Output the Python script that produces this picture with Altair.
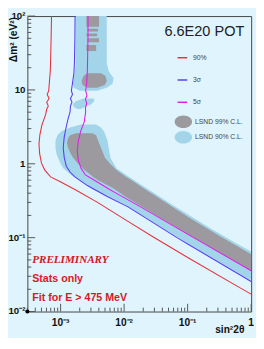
import altair as alt
import pandas as pd

# ---- sensitivity curves (sin^2 2theta, delta m^2) ----
RED_S = [7.2e-4, 7.1e-4, 6.9e-4, 6.65e-4, 6.5e-4, 6.15e-4, 6.6e-4, 6.05e-4, 6.4e-4, 6.05e-4,
         5.8e-4, 5.1e-4, 4.73e-4, 4.57e-4, 4.68e-4, 5.0e-4, 5.64e-4, 6.97e-4, 9.9e-4, 1.68e-3,
         3.76e-3, 1.15e-2, 2.88e-2, 0.105, 0.61, 1.0]
RED_DM = [100, 51.5, 18.4, 12.4, 9.77, 8.66, 7.67, 6.81, 6.03, 5.51,
          4.59, 3.40, 2.51, 1.86, 1.37, 1.02, 0.822, 0.665, 0.572, 0.449,
          0.303, 0.166, 0.102, 0.0526, 0.0219, 0.0172]

BLUE_S = [1.69e-3, 1.68e-3, 1.65e-3, 1.62e-3, 1.54e-3, 1.48e-3, 1.54e-3, 1.43e-3, 1.51e-3, 1.43e-3,
          1.41e-3, 1.31e-3, 1.22e-3, 1.14e-3, 1.10e-3, 1.14e-3, 1.23e-3, 1.41e-3, 1.68e-3, 2.64e-3,
          5.33e-3, 1.15e-2, 6.9e-2, 0.105, 1.0]
BLUE_DM = [100, 51.5, 22.8, 16.8, 12.4, 9.77, 8.66, 7.67, 6.81, 6.03,
           5.03, 4.07, 3.10, 2.30, 1.65, 1.22, 0.927, 0.774, 0.665, 0.507,
           0.364, 0.261, 0.0993, 0.0803, 0.0255]

MAG_S = [2.7e-3, 2.7e-3, 2.64e-3, 2.58e-3, 2.48e-3, 2.6e-3, 2.46e-3, 2.58e-3, 2.46e-3, 2.48e-3,
         2.36e-3, 2.07e-3, 1.9e-3, 1.83e-3, 1.9e-3, 2.1e-3, 2.46e-3, 3.3e-3, 5.93e-3, 7.58e-3,
         1.82e-2, 0.113, 1.0]
MAG_DM = [100, 51.5, 18.4, 12.4, 9.77, 8.41, 7.45, 6.61, 5.68, 5.03,
          3.72, 2.75, 2.03, 1.50, 1.11, 0.873, 0.707, 0.608, 0.449, 0.398,
          0.261, 0.105, 0.0356]

CURVE_NAMES = ["90%", "3σ", "5σ"]
CURVE_COLORS = ["#e8303c", "#5a3cf5", "#e21ee6"]

# ---- LSND allowed regions: rows of (delta m^2, sin^2 left, sin^2 right) ----
CL_NAMES = ["LSND 99% C.L.", "LSND 90% C.L."]
CL_COLORS = ["#9c999f", "#a3d5ea"]

GRAY_PIECES = {
    "g1": ([100, 71.8], [2.55e-3, 2.55e-3], [4.03e-3, 4.03e-3]),
    "g2": ([67.5, 61.7], [2.64e-3, 2.64e-3], [3.9e-3, 3.9e-3]),
    "g3": ([58.1, 53.1], [2.55e-3, 2.55e-3], [3.76e-3, 3.76e-3]),
    "g4": ([49.9, 44.2], [2.64e-3, 2.64e-3], [4.03e-3, 4.03e-3]),
    "g5": ([40.5, 33.7], [2.55e-3, 2.55e-3], [3.63e-3, 3.63e-3]),
    "g6": ([16.8, 15.4, 13.2, 11.7, 10.7],
           [2.64e-3, 2.30e-3, 2.14e-3, 2.22e-3, 2.64e-3],
           [4.32e-3, 5.1e-3, 5.33e-3, 4.97e-3, 3.76e-3]),
    "g7": ([2.59, 2.44, 2.23, 1.91, 1.65, 1.42, 1.22, 1.02, 0.822, 0.665, 0.608,
            0.463, 0.353, 0.187, 0.109, 0.0594, 0.0366],
           [1.73e-3, 1.41e-3, 1.31e-3, 1.26e-3, 1.31e-3, 1.41e-3, 1.56e-3, 1.86e-3, 2.38e-3,
            3.26e-3, 3.76e-3, 6.82e-3, 1.08e-2, 3.67e-2, 0.105, 0.36, 0.96],
           [3.15e-3, 3.63e-3, 3.76e-3, 4.03e-3, 4.32e-3, 4.64e-3, 4.97e-3, 5.93e-3, 7.58e-3,
            1.08e-2, 1.28e-2, 2.05e-2, 3.37e-2, 0.105, 0.30, 1.0, 1.0]),
}

BLUE_PIECES = {
    "b1": ([100, 22.8, 17.9, 14.5, 12.1, 10.7, 9.77],
           [1.73e-3, 1.73e-3, 1.68e-3, 1.62e-3, 1.56e-3, 1.62e-3, 2.0e-3],
           [5.33e-3, 5.33e-3, 5.72e-3, 6.82e-3, 6.58e-3, 5.33e-3, 3.76e-3]),
    "b2": ([7.67, 7.01, 6.41, 5.85, 5.51],
           [2.30e-3, 1.73e-3, 1.56e-3, 1.62e-3, 1.86e-3],
           [3.38e-3, 3.38e-3, 3.04e-3, 2.38e-3, 2.07e-3]),
    "b3": ([3.40, 3.10, 2.75, 2.44, 2.03, 1.65, 1.37, 1.18, 1.02, 0.873, 0.707, 0.572,
            0.449, 0.364, 0.277, 0.134, 0.0853, 0.065, 0.0271],
           [2.07e-3, 1.41e-3, 1.03e-3, 8.9e-4, 8.3e-4, 8.3e-4, 8.6e-4, 9.23e-4, 9.9e-4, 1.1e-3,
            1.46e-3, 2.14e-3, 3.26e-3, 5.5e-3, 1.04e-2, 4.08e-2, 9.8e-2, 0.166, 0.93],
           [3.63e-3, 4.32e-3, 4.8e-3, 5.1e-3, 5.5e-3, 5.72e-3, 5.93e-3, 6.14e-3, 6.82e-3, 7.58e-3,
            1.08e-2, 1.57e-2, 2.43e-2, 3.55e-2, 5.8e-2, 0.228, 0.562, 1.0, 1.0]),
}

# ---- axes ----
X_MAJOR = [1e-3, 1e-2, 1e-1, 1.0]
X_LABELS = ["10⁻³", "10⁻²", "10⁻¹", "1"]
Y_MAJOR = [0.01, 0.1, 1.0, 10.0, 100.0]
Y_LABELS = ["10⁻²", "10⁻¹", "1", "10", "10²"]
X_MINOR = [k * 10.0 ** d for d in (-4, -3, -2, -1) for k in range(2, 10) if 3e-4 <= k * 10.0 ** d < 1]
Y_MINOR = [k * 10.0 ** d for d in (-2, -1, 0, 1) for k in range(2, 10)]
X_TITLE = "sin²2θ"
Y_TITLE = "Δm² (eV²)"

# ---- annotations ----
NOTE_TEXT = ["PRELIMINARY", "Stats only", "Fit for E > 475 MeV"]
NOTE_S = [3.57e-4, 3.57e-4, 3.57e-4]
NOTE_DM = [0.0496, 0.0271, 0.0153]
POT_TEXT = "6.6E20 POT"
POT_S, POT_DM = 0.78, 61.7

W, H = 231, 305
FONT = "Liberation Sans"
INK = "#111"

curves = pd.DataFrame(
    [{"name": n, "i": i, "s": s, "dm": d}
     for n, S, D in zip(CURVE_NAMES, [RED_S, BLUE_S, MAG_S], [RED_DM, BLUE_DM, MAG_DM])
     for i, (s, d) in enumerate(zip(S, D))]
)


def pieces_df(pieces, cl):
    rows = []
    for p, (dms, los, his) in pieces.items():
        for d, lo, hi in zip(dms, los, his):
            rows.append({"cl": cl, "piece": p, "dm": d, "lo": lo, "hi": hi})
    return pd.DataFrame(rows)


gray_df = pieces_df(GRAY_PIECES, CL_NAMES[0])
blue_df = pieces_df(BLUE_PIECES, CL_NAMES[1])

xs = alt.Scale(type="log", domain=[3e-4, 1.0], nice=False)
ys = alt.Scale(type="log", domain=[0.01, 100], nice=False)

ELLIPSE = "M -1 0 A 1 0.72 0 1 1 1 0 A 1 0.72 0 1 1 -1 0 Z"
fill_scale = alt.Scale(domain=CL_NAMES, range=CL_COLORS)
fill_legend = alt.Legend(orient="none", legendX=152, legendY=100, title=None, symbolType=ELLIPSE,
                         symbolSize=324, symbolStrokeWidth=0, symbolOpacity=1, labelFont=FONT,
                         labelFontSize=7, labelColor="#444", rowPadding=0, labelOffset=3, padding=0)

blue_layer = alt.Chart(blue_df).mark_area(orient="horizontal", opacity=1, clip=True).encode(
    y=alt.Y("dm:Q", scale=ys, axis=None),
    x=alt.X("lo:Q", scale=xs, axis=None),
    x2="hi:Q",
    fill=alt.Fill("cl:N", scale=fill_scale, legend=fill_legend),
    detail="piece:N",
)
gray_layer = alt.Chart(gray_df).mark_area(orient="horizontal", opacity=1, clip=True).encode(
    y=alt.Y("dm:Q", scale=ys, axis=None),
    x=alt.X("lo:Q", scale=xs, axis=None),
    x2="hi:Q",
    fill=alt.Fill("cl:N", scale=fill_scale, legend=fill_legend),
    detail="piece:N",
)

line_layer = alt.Chart(curves).mark_line(strokeWidth=1.1, clip=True).encode(
    x=alt.X("s:Q", scale=xs, axis=None),
    y=alt.Y("dm:Q", scale=ys, axis=None),
    stroke=alt.Stroke("name:N", scale=alt.Scale(domain=CURVE_NAMES, range=CURVE_COLORS),
                      legend=alt.Legend(orient="none", legendX=154, legendY=37, title=None,
                                        symbolType="stroke", symbolSize=100, symbolStrokeWidth=1.5,
                                        labelFont=FONT, labelFontSize=7, labelColor="#444",
                                        rowPadding=14, labelOffset=5, padding=0)),
    order="i:Q",
)

# ticks pointing inward
TICK = "#555"
xt1 = alt.Chart(pd.DataFrame({"v": X_MINOR})).mark_rule(color=TICK, strokeWidth=1).encode(
    x=alt.X("v:Q", scale=xs, axis=None), y=alt.value(H), y2=alt.value(H - 4))
xt2 = alt.Chart(pd.DataFrame({"v": X_MAJOR})).mark_rule(color=TICK, strokeWidth=1).encode(
    x=alt.X("v:Q", scale=xs, axis=None), y=alt.value(H), y2=alt.value(H - 8))
yt1 = alt.Chart(pd.DataFrame({"v": Y_MINOR})).mark_rule(color=TICK, strokeWidth=1).encode(
    y=alt.Y("v:Q", scale=ys, axis=None), x=alt.value(0), x2=alt.value(4))
yt2 = alt.Chart(pd.DataFrame({"v": Y_MAJOR})).mark_rule(color=TICK, strokeWidth=1).encode(
    y=alt.Y("v:Q", scale=ys, axis=None), x=alt.value(0), x2=alt.value(8))

# tick labels and axis titles as text marks
xlab = alt.Chart(pd.DataFrame({"v": X_MAJOR, "t": X_LABELS})).mark_text(
    align="center", baseline="middle", font=FONT, fontSize=10.5, fontWeight="bold", color=INK).encode(
    x=alt.X("v:Q", scale=xs, axis=None), y=alt.value(H + 12), text="t:N")
ylab = alt.Chart(pd.DataFrame({"v": Y_MAJOR, "t": Y_LABELS})).mark_text(
    align="right", baseline="middle", font=FONT, fontSize=10, fontWeight="bold", color=INK).encode(
    y=alt.Y("v:Q", scale=ys, axis=None), x=alt.value(-2), text="t:N")
xtitle = alt.Chart(pd.DataFrame({"t": [X_TITLE]})).mark_text(
    align="right", baseline="middle", font=FONT, fontSize=10.5, fontWeight="bold", color=INK).encode(
    x=alt.value(W - 7), y=alt.value(H + 19), text="t:N")
ytitle = alt.Chart(pd.DataFrame({"t": [Y_TITLE]})).mark_text(
    align="right", baseline="middle", angle=270, font=FONT, fontSize=10.5, fontWeight="bold",
    color=INK).encode(x=alt.value(-14), y=alt.value(1), text="t:N")

notes = pd.DataFrame({"t": NOTE_TEXT, "s": NOTE_S, "dm": NOTE_DM})
prelim = alt.Chart(notes.iloc[[0]]).mark_text(
    align="left", baseline="middle", font="Liberation Serif", fontSize=11.5, fontStyle="italic",
    fontWeight="bold", color="#d0182a").encode(
    x=alt.X("s:Q", scale=xs, axis=None), y=alt.Y("dm:Q", scale=ys, axis=None), text="t:N")
other_notes = alt.Chart(notes.iloc[1:]).mark_text(
    align="left", baseline="middle", font=FONT, fontSize=11, fontWeight="bold",
    color="#d8182a").encode(
    x=alt.X("s:Q", scale=xs, axis=None), y=alt.Y("dm:Q", scale=ys, axis=None), text="t:N")
pot = alt.Chart(pd.DataFrame({"t": [POT_TEXT], "s": [POT_S], "dm": [POT_DM]})).mark_text(
    align="right", baseline="middle", font=FONT, fontSize=15, color="#222").encode(
    x=alt.X("s:Q", scale=xs, axis=None), y=alt.Y("dm:Q", scale=ys, axis=None), text="t:N")

origin = alt.Chart(pd.DataFrame({"s": [3e-4], "dm": [0.01]})).mark_point(
    filled=True, color="#000", size=18, opacity=1).encode(
    x=alt.X("s:Q", scale=xs, axis=None), y=alt.Y("dm:Q", scale=ys, axis=None))

chart = alt.layer(
    blue_layer, gray_layer, line_layer, xt1, xt2, yt1, yt2, xlab, ylab, xtitle, ytitle,
    prelim, other_notes, pot, origin
).properties(
    width=W, height=H,
    autosize=alt.AutoSizeParams(type="none"),
    padding={"left": 20, "top": 3, "right": 5, "bottom": 22},
    background="#dff4fc",
).configure_view(stroke="#444", strokeWidth=1, fill="#dff4fc")

chart.save("out.html", embed_options={"renderer": "svg", "actions": False})
